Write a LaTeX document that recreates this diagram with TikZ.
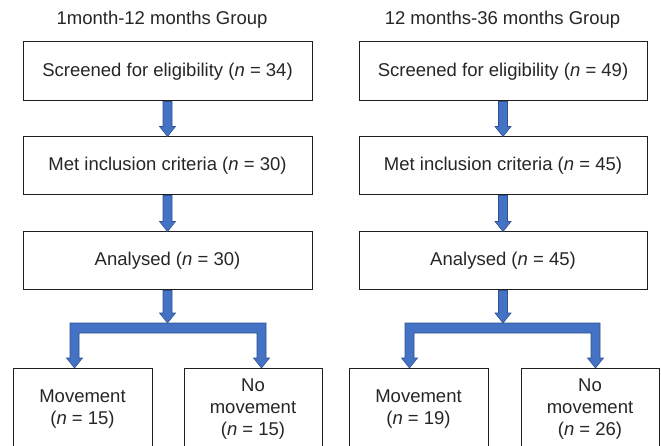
\documentclass[tikz,border=0pt]{standalone}
\usepackage{fontspec}
\setmainfont{Liberation Sans}
\usetikzlibrary{calc}
\definecolor{blueA}{HTML}{4472C4}
\definecolor{blueD}{HTML}{2F528F}
\definecolor{txt}{HTML}{262626}
\newcommand\blockdown[2]{\filldraw[blockarrow] let \p1=(#1), \p2=(#2) in
  (\x1-4.5pt,\y1) -- (\x1+4.5pt,\y1) -- (\x1+4.5pt,\y2+10pt) -- (\x1+8pt,\y2+10pt)
  -- (\x1,\y2) -- (\x1-8pt,\y2+10pt) -- (\x1-4.5pt,\y2+10pt) -- cycle;}
% #1 left x of bar, #2 right x of bar
\newcommand\branchshape[2]{\filldraw[blockarrow]
  (#1,323) -- (#2,323) -- (#2,358) -- (#2+3.5,358) -- (#2-4.5,368) -- (#2-12.5,358)
  -- (#2-9,358) -- (#2-9,333) -- (#1+9,333) -- (#1+9,358) -- (#1+12.5,358)
  -- (#1+4.5,368) -- (#1-3.5,358) -- (#1,358) -- cycle;}
\begin{document}
\begin{tikzpicture}[x=1pt,y=-1pt,
  box/.style={draw=black!88, line width=1pt, fill=white, text=txt,
    font=\fontsize{18.5}{22}\selectfont, inner sep=0pt, align=center},
  title/.style={text=txt, font=\fontsize{18.5}{22}\selectfont, inner sep=0pt},
  blockarrow/.style={fill=blueA, draw=blueD, line width=0.6pt}]
\useasboundingbox (0,0) rectangle (661,446);
\fill[white] (0,0) rectangle (661,446);

% titles
\node[title] (tL) at (162,20) {1month-12 months Group};
\node[title] (tR) at (502.5,20) {12 months-36 months Group};

% left column
\node[box, minimum width=289pt, minimum height=59pt] (sL) at (167.5,71.5) {Screened for eligibility (\textit{n} = 34)};
\node[box, minimum width=289pt, minimum height=58pt] (mL) at (167.5,166) {Met inclusion criteria (\textit{n} = 30)};
\node[box, minimum width=289pt, minimum height=58pt] (aL) at (167.5,261) {Analysed (\textit{n} = 30)};
\node[box, minimum width=139pt, minimum height=82pt] (mvL) at (82.5,409) {Movement\\(\textit{n} = 15)};
\node[box, minimum width=138pt, minimum height=82pt] (nmL) at (253,409) {No\\movement\\(\textit{n} = 15)};

% right column
\node[box, minimum width=288pt, minimum height=59pt] (sR) at (503,71.5) {Screened for eligibility (\textit{n} = 49)};
\node[box, minimum width=288pt, minimum height=58pt] (mR) at (503,166) {Met inclusion criteria (\textit{n} = 45)};
\node[box, minimum width=288pt, minimum height=58pt] (aR) at (503,261) {Analysed (\textit{n} = 45)};
\node[box, minimum width=139pt, minimum height=82pt] (mvR) at (418.5,409) {Movement\\(\textit{n} = 19)};
\node[box, minimum width=138pt, minimum height=82pt] (nmR) at (590,409) {No\\movement\\(\textit{n} = 26)};

% arrows left
\coordinate (barTopL) at (168,323);
\blockdown{sL.south}{mL.north}
\blockdown{mL.south}{aL.north}
\blockdown{aL.south}{barTopL}
\branchshape{70}{266}

% arrows right
\coordinate (barTopR) at (503,323);
\blockdown{sR.south}{mR.north}
\blockdown{mR.south}{aR.north}
\blockdown{aR.south}{barTopR}
\branchshape{405}{600}
\end{tikzpicture}
\end{document}
